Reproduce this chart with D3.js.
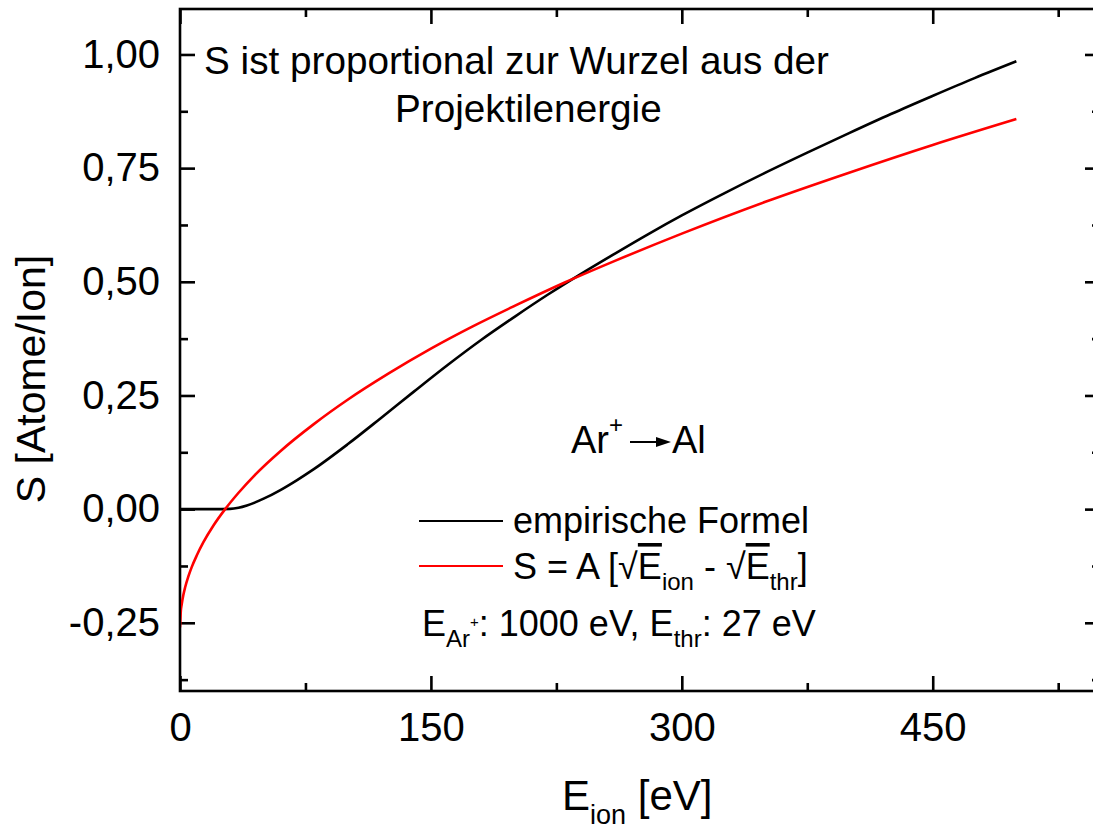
<!DOCTYPE html>
<html>
<head>
<meta charset="utf-8">
<script src="https://cdn.jsdelivr.net/npm/d3@7"></script>
<style>
  html, body { margin: 0; padding: 0; background: #fff; }
  svg { display: block; font-family: "Liberation Sans", Arial, sans-serif; }
</style>
</head>
<body>
<svg id="chart" width="1093" height="829"></svg>
<script>
// Sputter yield of Al under Ar+ bombardment
const xMajorTicks = [0, 150, 300, 450];
const xMinorTicks = [75, 225, 375, 525];
const yMajorTicks = [-0.25, 0, 0.25, 0.5, 0.75, 1.0];
const yMinorTicks = [-0.375, -0.125, 0.125, 0.375, 0.625, 0.875];

// empirical formula curve
const empiricalE = [0, 10, 20, 30, 35, 40, 50, 60, 70, 80, 100, 120, 140, 160, 180, 200, 220, 240, 260, 280, 300, 325, 350, 375, 400, 425, 450, 475, 500];
const empiricalS = [0, 0, 0, 0.0005, 0.003, 0.008, 0.023, 0.042, 0.064, 0.088, 0.142, 0.200, 0.259, 0.317, 0.372, 0.423, 0.472, 0.518, 0.562, 0.605, 0.646, 0.694, 0.740, 0.784, 0.827, 0.869, 0.909, 0.948, 0.985];

// square-root law curve, S = A [sqrt(E_ion) - sqrt(E_thr)]
const sqrtE = [0, 0.5, 1, 2, 3, 5, 7, 10, 14, 20, 27, 35, 45, 60, 80, 100, 125, 150, 175, 200, 230, 260, 300, 350, 400, 450, 500];
const sqrtS = [-0.260, -0.224, -0.210, -0.189, -0.173, -0.148, -0.1275, -0.102, -0.0727, -0.036, 0, 0.036, 0.076, 0.1275, 0.187, 0.240, 0.299, 0.353, 0.402, 0.447, 0.4985, 0.546, 0.606, 0.676, 0.740, 0.801, 0.858];

const svg = d3.select("#chart");
const plotLeft = 180, plotRight = 1100, plotTop = 9, plotBottom = 691;

const x = d3.scaleLinear().domain([0, 550]).range([plotLeft, plotRight]);
const y = d3.scaleLinear().domain([-0.4, 1.1]).range([plotBottom, plotTop]);

const fmtY = d3.format(".2f");
const comma = v => fmtY(v).replace(".", ",").replace("\u2212", "-");

const axisStroke = 2.6;
const majorLen = 15, minorLen = 8;

function styleAxis(g) {
  g.select(".domain").remove();
  g.selectAll(".tick line").attr("stroke", "#000").attr("stroke-width", axisStroke);
  g.selectAll("text").attr("fill", "#000").attr("font-size", 40).attr("font-family", "Liberation Sans, Arial, sans-serif");
}

// bottom
svg.append("g").attr("transform", `translate(0,${plotBottom})`)
  .call(d3.axisBottom(x).tickValues(xMajorTicks).tickSizeInner(-majorLen).tickSizeOuter(0).tickPadding(22).tickFormat(d3.format("d")))
  .call(styleAxis);
svg.append("g").attr("transform", `translate(0,${plotBottom})`)
  .call(d3.axisBottom(x).tickValues(xMinorTicks).tickSizeInner(-minorLen).tickSizeOuter(0).tickFormat(""))
  .call(styleAxis);
// top
svg.append("g").attr("transform", `translate(0,${plotTop})`)
  .call(d3.axisTop(x).tickValues(xMajorTicks).tickSizeInner(-majorLen).tickSizeOuter(0).tickFormat(""))
  .call(styleAxis);
svg.append("g").attr("transform", `translate(0,${plotTop})`)
  .call(d3.axisTop(x).tickValues(xMinorTicks).tickSizeInner(-minorLen).tickSizeOuter(0).tickFormat(""))
  .call(styleAxis);
// left
svg.append("g").attr("transform", `translate(${plotLeft},0)`)
  .call(d3.axisLeft(y).tickValues(yMajorTicks).tickSizeInner(-majorLen).tickSizeOuter(0).tickPadding(20).tickFormat(comma))
  .call(styleAxis);
svg.append("g").attr("transform", `translate(${plotLeft},0)`)
  .call(d3.axisLeft(y).tickValues(yMinorTicks).tickSizeInner(-minorLen).tickSizeOuter(0).tickFormat(""))
  .call(styleAxis);
// right
svg.append("g").attr("transform", `translate(${plotRight},0)`)
  .call(d3.axisRight(y).tickValues(yMajorTicks).tickSizeInner(-majorLen).tickSizeOuter(0).tickFormat(""))
  .call(styleAxis);
svg.append("g").attr("transform", `translate(${plotRight},0)`)
  .call(d3.axisRight(y).tickValues(yMinorTicks).tickSizeInner(-minorLen).tickSizeOuter(0).tickFormat(""))
  .call(styleAxis);

// frame
svg.append("rect")
  .attr("x", plotLeft).attr("y", plotTop)
  .attr("width", plotRight - plotLeft).attr("height", plotBottom - plotTop)
  .attr("fill", "none").attr("stroke", "#000").attr("stroke-width", axisStroke);

// curves
svg.append("clipPath").attr("id", "plotClip")
  .append("rect").attr("x", plotLeft + 1).attr("y", plotTop).attr("width", plotRight - plotLeft).attr("height", plotBottom - plotTop);

const line = d3.line().x(d => x(d[0])).y(d => y(d[1])).curve(d3.curveMonotoneX);
const plot = svg.append("g").attr("clip-path", "url(#plotClip)");

plot.append("path")
  .datum(empiricalE.map((e, i) => [e, empiricalS[i]]))
  .attr("d", line).attr("fill", "none").attr("stroke", "#000").attr("stroke-width", 2.6);

plot.append("path")
  .datum(sqrtE.map((e, i) => [e, sqrtS[i]]))
  .attr("d", line).attr("fill", "none").attr("stroke", "#ff0000").attr("stroke-width", 2.6);

// axis titles
const xt = svg.append("text").attr("x", 562).attr("y", 810).attr("font-size", 42).attr("fill", "#000");
xt.append("tspan").text("E");
xt.append("tspan").attr("font-size", 27).attr("dy", 14).text("ion");
xt.append("tspan").attr("dy", -14).text(" [eV]");

svg.append("text")
  .attr("transform", "translate(45,379) rotate(-90)")
  .attr("text-anchor", "middle").attr("font-size", 41).attr("fill", "#000")
  .text("S [Atome/Ion]");

// annotation
svg.append("text").attr("x", 204).attr("y", 74).attr("font-size", 38.7).attr("fill", "#000")
  .text("S ist proportional zur Wurzel aus der");
svg.append("text").attr("x", 395).attr("y", 122).attr("font-size", 38.7).attr("fill", "#000")
  .text("Projektilenergie");

// Ar+ -> Al
const ar = svg.append("text").attr("x", 571).attr("y", 453).attr("font-size", 38).attr("fill", "#000");
ar.append("tspan").text("Ar");
ar.append("tspan").attr("font-size", 24).attr("dy", -20).text("+");
svg.append("text").attr("x", 672).attr("y", 453).attr("font-size", 38).attr("fill", "#000").text("Al");
svg.append("line").attr("x1", 630).attr("y1", 442).attr("x2", 658).attr("y2", 442)
  .attr("stroke", "#000").attr("stroke-width", 2);
svg.append("path").attr("d", "M656,437 L671,442 L656,447 Z").attr("fill", "#000");

// legend
const legendFont = 36, subFont = 24;
svg.append("line").attr("x1", 419).attr("x2", 503).attr("y1", 521).attr("y2", 521)
  .attr("stroke", "#000").attr("stroke-width", 2.2);
svg.append("text").attr("x", 513).attr("y", 533).attr("font-size", legendFont).attr("fill", "#000")
  .text("empirische Formel");

svg.append("line").attr("x1", 419).attr("x2", 503).attr("y1", 566).attr("y2", 566)
  .attr("stroke", "#ff0000").attr("stroke-width", 2.2);
const l2 = svg.append("text").attr("x", 513).attr("y", 579).attr("font-size", legendFont).attr("fill", "#000");
l2.append("tspan").text("S = A [");
l2.append("tspan").text("\u221A");
l2.append("tspan").attr("text-decoration", "overline").text("E");
l2.append("tspan").attr("font-size", subFont).attr("dy", 11).text("ion");
l2.append("tspan").attr("dy", -11).text(" - ");
l2.append("tspan").text("\u221A");
l2.append("tspan").attr("text-decoration", "overline").text("E");
l2.append("tspan").attr("font-size", subFont).attr("dy", 11).text("thr");
l2.append("tspan").attr("dy", -11).text("]");

const l3 = svg.append("text").attr("x", 422).attr("y", 636).attr("font-size", legendFont).attr("fill", "#000");
l3.append("tspan").text("E");
l3.append("tspan").attr("font-size", subFont).attr("dy", 11).text("Ar");
l3.append("tspan").attr("font-size", 15).attr("dy", -20).text("+");
l3.append("tspan").attr("dy", 9).text(": 1000 eV, E");
l3.append("tspan").attr("font-size", subFont).attr("dy", 11).text("thr");
l3.append("tspan").attr("dy", -11).text(": 27 eV");
</script>
</body>
</html>
